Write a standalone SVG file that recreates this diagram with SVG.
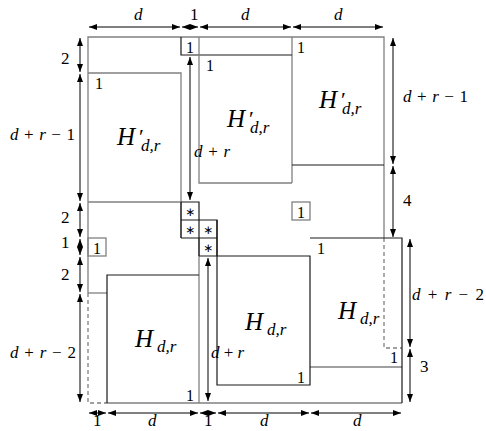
<svg xmlns="http://www.w3.org/2000/svg" width="486" height="431" viewBox="0 0 486 431">
<defs>
<marker id="ah" viewBox="0 0 8 6" refX="8" refY="3" markerWidth="8" markerHeight="6" markerUnits="userSpaceOnUse" orient="auto-start-reverse">
<path d="M0,0 L8,3 L0,6 z" fill="#000"/>
</marker>
<style>
.g{stroke:#808080;stroke-width:1.3;fill:none}
.k{stroke:#1a1a1a;stroke-width:1.2;fill:none}
.ds{stroke:#808080;stroke-width:1.3;fill:none;stroke-dasharray:4 3}
.ar{stroke:#000;stroke-width:1;fill:none;marker-start:url(#ah);marker-end:url(#ah)}
text{font-family:"Liberation Serif","DejaVu Serif",serif;fill:#000}
.l{font-size:17px}
.s{font-size:16px}
.i{font-style:italic}
.H{font-size:25px;font-style:italic}
.p{font-size:22px}
.sub{font-size:17px;font-style:italic}
.st{font-family:"DejaVu Sans",sans-serif;font-size:12px}
</style>
</defs>

<g id="frame">
<path class="g" d="M88,293 V37 H384 V238"/>
<path class="ds" d="M88,293 V403 H107"/>
<path class="ds" d="M384,238 V348 H402"/>
<path class="g" d="M107,403 H402"/>
<path class="g" d="M292,37 V183"/>
<path class="g" d="M88,202 H181"/>
<path class="g" d="M88,293 H107"/>
<path class="g" d="M199,238 V403"/>
<path class="g" d="M310,367 H402"/>
</g>

<g id="box1-top">
<path class="k" d="M181,37 V55 H292"/>
<path class="g" d="M199,37 V55"/>
<text class="s" x="186" y="53">1</text>
</g>

<g id="Hp-left">
<path class="g" d="M88,73 H181 V238"/>
<text class="s" x="95" y="89">1</text>
<text class="H" x="117" y="145">H</text>
<text class="p" x="139" y="144">′</text>
<text class="sub" x="141" y="151">d,r</text>
</g>

<g id="Hp-mid">
<path class="g" d="M199,55 V183 H292"/>
<text class="s" x="206" y="71">1</text>
<text class="H" x="227" y="127">H</text>
<text class="p" x="249" y="126">′</text>
<text class="sub" x="250" y="133">d,r</text>
</g>

<g id="Hp-right">
<path class="k" d="M292,165 H384"/>
<text class="s" x="297" y="53">1</text>
<text class="H" x="319" y="108">H</text>
<text class="p" x="341" y="107">′</text>
<text class="sub" x="342" y="114">d,r</text>
</g>

<g id="stars">
<path class="k" d="M181,202 H199 V220 M181,220 H217 V256 M181,238 H217 M181,202 V238 M199,220 V256"/>
<text class="st" x="190" y="216" text-anchor="middle">∗</text>
<text class="st" x="190" y="234" text-anchor="middle">∗</text>
<text class="st" x="208" y="234" text-anchor="middle">∗</text>
<text class="st" x="208" y="252" text-anchor="middle">∗</text>
</g>

<g id="box1-center">
<rect class="g" x="292" y="202" width="18" height="18"/>
<text class="s" x="297" y="218">1</text>
</g>

<g id="box1-left">
<rect class="g" x="88" y="238" width="18" height="18"/>
<text class="s" x="93" y="254">1</text>
</g>

<g id="H-left">
<path class="k" d="M107,403 V275 H199"/>
<text class="s" x="186" y="401">1</text>
<text class="H" x="135" y="347">H</text>
<text class="sub" x="157" y="352">d,r</text>
</g>

<g id="H-mid">
<path class="k" d="M199,256 H310 V385 H217 V220"/>
<text class="s" x="297" y="383">1</text>
<text class="H" x="245" y="330">H</text>
<text class="sub" x="267" y="335">d,r</text>
</g>

<g id="H-right">
<path class="k" d="M310,238 H402 V403"/>
<text class="s" x="317" y="254">1</text>
<text class="H" x="338" y="319">H</text>
<text class="sub" x="360" y="324">d,r</text>
<text class="s" x="390" y="363">1</text>
</g>

<g id="connectors">
<line class="ar" x1="89" y1="27" x2="180" y2="27"/>
<line class="ar" x1="182" y1="27" x2="198" y2="27"/>
<line class="ar" x1="200" y1="27" x2="291" y2="27"/>
<line class="ar" x1="293" y1="27" x2="383" y2="27"/>

<line class="ar" x1="89" y1="413" x2="106" y2="413"/>
<line class="ar" x1="108" y1="413" x2="198" y2="413"/>
<line class="ar" x1="200" y1="413" x2="216" y2="413"/>
<line class="ar" x1="218" y1="413" x2="309" y2="413"/>
<line class="ar" x1="311" y1="413" x2="401" y2="413"/>

<line class="ar" x1="80" y1="38" x2="80" y2="72"/>
<line class="ar" x1="80" y1="74" x2="80" y2="201"/>
<line class="ar" x1="80" y1="203" x2="80" y2="237"/>
<line class="ar" x1="80" y1="239" x2="80" y2="255"/>
<line class="ar" x1="80" y1="257" x2="80" y2="292"/>
<line class="ar" x1="80" y1="294" x2="80" y2="402"/>

<line class="ar" x1="393" y1="38" x2="393" y2="164"/>
<line class="ar" x1="393" y1="166" x2="393" y2="237"/>
<line class="ar" x1="410" y1="239" x2="410" y2="347"/>
<line class="ar" x1="410" y1="349" x2="410" y2="402"/>

<line class="ar" x1="190" y1="57" x2="190" y2="200"/>
<line class="ar" x1="208" y1="258" x2="208" y2="401"/>
</g>

<g id="labels">
<text class="l i" x="134" y="20">d</text>
<text class="l" x="190" y="20">1</text>
<text class="l i" x="241" y="20">d</text>
<text class="l i" x="334" y="20">d</text>

<text class="l" x="93" y="426">1</text>
<text class="l i" x="148" y="426">d</text>
<text class="l" x="204" y="426">1</text>
<text class="l i" x="260" y="426">d</text>
<text class="l i" x="353" y="426">d</text>

<text class="l" x="61" y="64">2</text>
<text class="l" x="10" y="140" textLength="65" lengthAdjust="spacing"><tspan class="i">d</tspan> + <tspan class="i">r</tspan> − 1</text>
<text class="l" x="61" y="223">2</text>
<text class="l" x="61" y="248">1</text>
<text class="l" x="61" y="280">2</text>
<text class="l" x="10" y="358" textLength="66" lengthAdjust="spacing"><tspan class="i">d</tspan> + <tspan class="i">r</tspan> − 2</text>

<text class="l" x="403" y="102" textLength="65" lengthAdjust="spacing"><tspan class="i">d</tspan> + <tspan class="i">r</tspan> − 1</text>
<text class="l" x="403" y="206">4</text>
<text class="l" x="412" y="300" textLength="72" lengthAdjust="spacing"><tspan class="i">d</tspan> + <tspan class="i">r</tspan> − 2</text>
<text class="l" x="420" y="372">3</text>

<text class="l" x="194" y="157" textLength="36" lengthAdjust="spacing"><tspan class="i">d</tspan> + <tspan class="i">r</tspan></text>
<text class="l" x="211" y="358" textLength="33" lengthAdjust="spacing"><tspan class="i">d</tspan> + <tspan class="i">r</tspan></text>
</g>
</svg>
